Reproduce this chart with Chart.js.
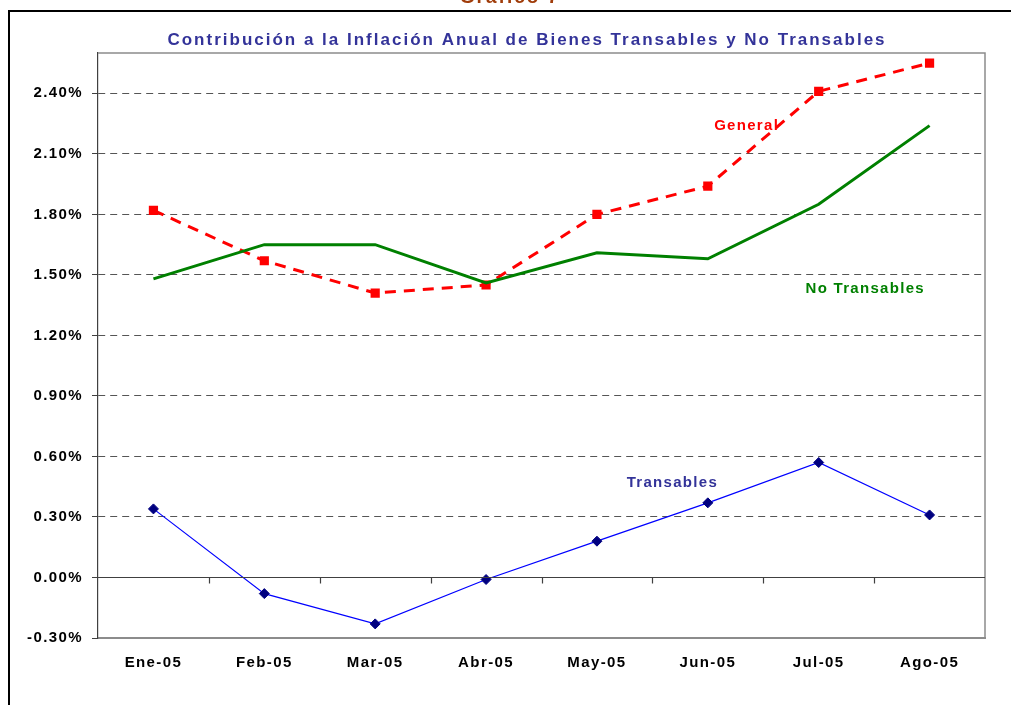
<!DOCTYPE html>
<html>
<head>
<meta charset="utf-8">
<script src="https://cdn.jsdelivr.net/npm/chart.js@4/dist/chart.umd.min.js"></script>
<style>
  html, body { margin: 0; padding: 0; background: #fff; }
  #wrap { width: 1011px; height: 705px; position: relative; }
</style>
</head>
<body>
<div id="wrap"><canvas id="chart" width="1011" height="705"></canvas></div>
<script>
// Datos
const MESES        = ['Ene-05','Feb-05','Mar-05','Abr-05','May-05','Jun-05','Jul-05','Ago-05'];
const GENERAL      = [1.82, 1.57, 1.41, 1.45, 1.80, 1.94, 2.41, 2.55];
const NO_TRANSABLES = [1.48, 1.65, 1.65, 1.46, 1.61, 1.58, 1.85, 2.24];
const TRANSABLES   = [0.34, -0.08, -0.23, -0.01, 0.18, 0.37, 0.57, 0.31];

const TITULO   = 'Contribución a la Inflación Anual de Bienes Transables y No Transables';
const GRAFICO  = 'Gráfico 7';

const FONT = '"Liberation Sans", Arial, sans-serif';

// etiquetas de serie, en coordenadas de datos (índice de categoría, valor)
const SERIES_LABELS = [
  { text: 'General',       x: 5.35, y: 2.24, color: '#ff0000' },
  { text: 'No Transables', x: 6.42, y: 1.43, color: '#008000' },
  { text: 'Transables',    x: 4.68, y: 0.47, color: '#333399' },
];

const decor = {
  id: 'decor',
  beforeDraw(chart) {
    chart.ctx.letterSpacing = '1.4px';
  },
  afterDraw(chart) {
    const { ctx, chartArea: a, scales: { x, y } } = chart;
    ctx.save();
    // marco exterior
    ctx.strokeStyle = '#000';
    ctx.lineWidth = 2;
    ctx.beginPath();
    ctx.moveTo(1011, 11); ctx.lineTo(9, 11); ctx.lineTo(9, 705);
    ctx.stroke();

    // borde del área de trazado (arriba y derecha)
    ctx.strokeStyle = '#8c8c8c';
    ctx.lineWidth = 1.5;
    ctx.beginPath();
    ctx.moveTo(a.left, a.top); ctx.lineTo(a.right, a.top); ctx.lineTo(a.right, a.bottom);
    ctx.stroke();

    // eje en 0 con marcas entre categorías
    const y0 = Math.round(y.getPixelForValue(0)) + 0.5;
    ctx.strokeStyle = '#404040';
    ctx.lineWidth = 1.2;
    ctx.beginPath();
    ctx.moveTo(a.left, y0); ctx.lineTo(a.right, y0);
    for (let i = 1; i < MESES.length; i++) {
      const px = Math.round((x.getPixelForValue(i - 1) + x.getPixelForValue(i)) / 2) + 0.5;
      ctx.moveTo(px, y0); ctx.lineTo(px, y0 + 6);
    }
    ctx.stroke();

    // títulos
    ctx.textAlign = 'center';
    ctx.textBaseline = 'alphabetic';
    ctx.letterSpacing = '2px';
    ctx.fillStyle = '#333399';
    ctx.font = `bold 17px ${FONT}`;
    ctx.fillText(TITULO, 527, 45);
    ctx.fillStyle = '#a03c0a';
    ctx.font = `bold 19px ${FONT}`;
    ctx.fillText(GRAFICO, 510, 3);

    // etiquetas de series
    ctx.letterSpacing = '1.3px';
    ctx.font = `bold 15px ${FONT}`;
    ctx.textBaseline = 'middle';
    SERIES_LABELS.forEach(l => {
      ctx.fillStyle = l.color;
      ctx.fillText(l.text, x.getPixelForValue(l.x), y.getPixelForValue(l.y));
    });
    ctx.restore();
  }
};

new Chart(document.getElementById('chart'), {
  type: 'line',
  data: {
    labels: MESES,
    datasets: [
      { label: 'Transables', data: TRANSABLES, borderColor: '#0000ff', borderWidth: 1.2,
        pointStyle: 'rectRot', pointRadius: 5, pointBackgroundColor: '#000080', pointBorderColor: '#000080',
        pointBorderWidth: 1, tension: 0 },
      { label: 'No Transables', data: NO_TRANSABLES, borderColor: '#008000', borderWidth: 3,
        pointRadius: 0, tension: 0 },
      { label: 'General', data: GENERAL, borderColor: '#ff0000', borderWidth: 3, borderDash: [11, 8],
        pointStyle: 'rect', pointRadius: 6.5, pointBackgroundColor: '#ff0000', pointBorderColor: '#ff0000',
        pointBorderWidth: 0, tension: 0 },
    ]
  },
  options: {
    responsive: false,
    animation: false,
    devicePixelRatio: 1,
    layout: { padding: { top: 53, right: 26, left: 0, bottom: 0 } },
    plugins: { legend: { display: false }, tooltip: { enabled: false }, title: { display: false } },
    scales: {
      x: {
        offset: true,
        grid: { display: false, drawTicks: false },
        border: { display: true, color: '#8c8c8c', width: 2 },
        ticks: { color: '#000', font: { family: FONT, size: 15, weight: 'bold' }, padding: 16, maxRotation: 0 },
        afterFit: s => { s.height = 67; }
      },
      y: {
        min: -0.3, max: 2.6,
        grid: { color: '#555', lineWidth: 1, tickLength: 6, tickColor: '#404040' },
        border: { display: true, color: '#404040', width: 1.2, dash: [7, 5] },
        ticks: { stepSize: 0.3, includeBounds: false, padding: 9, color: '#000',
                 font: { family: FONT, size: 15, weight: 'bold' },
                 callback: v => v.toFixed(2) + '%' },
        afterFit: s => { s.width = 98; }
      }
    }
  },
  plugins: [decor]
});
</script>
</body>
</html>
